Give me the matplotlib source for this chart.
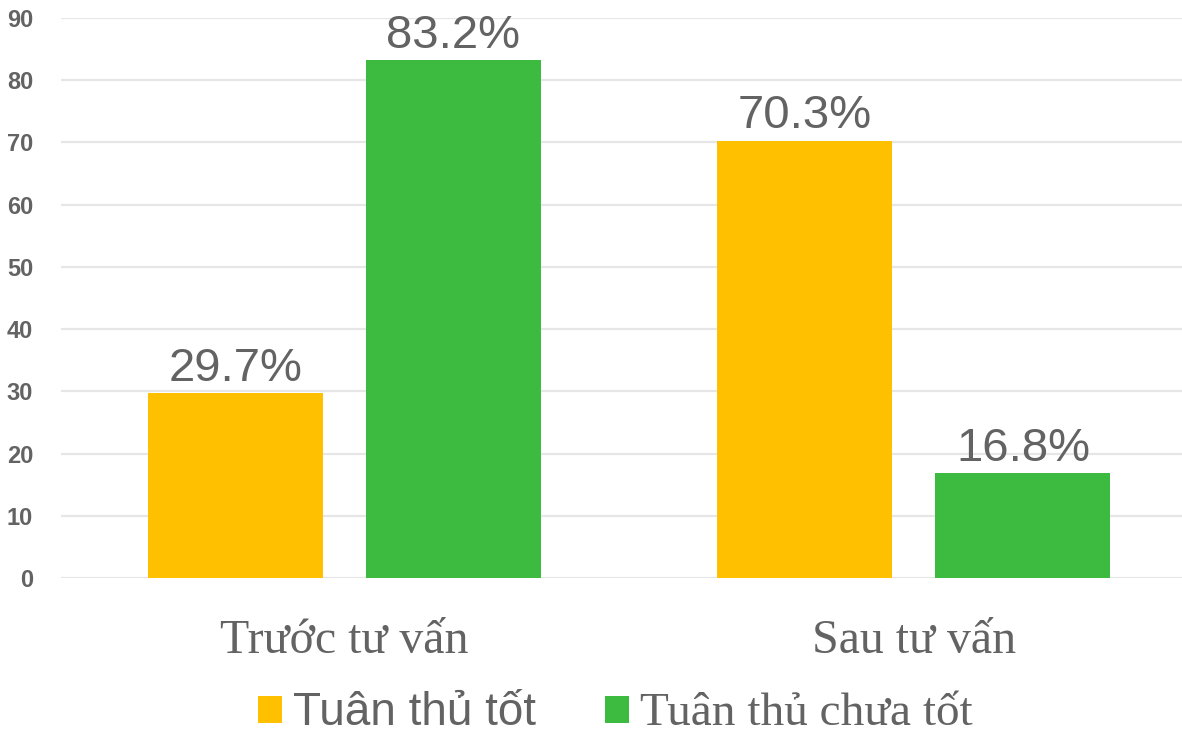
import matplotlib
matplotlib.use("Agg")
import matplotlib.pyplot as plt
from matplotlib.patches import Patch
import numpy as np

categories = ["Trước tư vấn", "Sau tư vấn"]
series_names = ["Tuân thủ tốt", "Tuân thủ chưa tốt"]
good_values = [29.7, 70.3]
notgood_values = [83.2, 16.8]
y_ticks = [0, 10, 20, 30, 40, 50, 60, 70, 80, 90]

TEXT = "#636363"
ORANGE = "#FFC000"
GREEN = "#3DBB40"
SANS = ["Liberation Sans", "DejaVu Sans"]
SERIF = ["Liberation Serif", "DejaVu Serif"]

fig = plt.figure(figsize=(11.82, 7.37), dpi=100)
ax = fig.add_axes([61 / 1182, 1 - 578 / 737, 1 - 61 / 1182, (578 - 18) / 737])

x = np.arange(len(categories))
off = 0.1914
w = 0.3073
b1 = ax.bar(x - off, good_values, width=w, color=ORANGE, zorder=3)
b2 = ax.bar(x + off, notgood_values, width=w, color=GREEN, zorder=3)

for bars, vals in ((b1, good_values), (b2, notgood_values)):
    for rect, v in zip(bars, vals):
        ax.annotate(f"{v:.1f}%", (rect.get_x() + rect.get_width() / 2, v),
                    xytext=(0, 9), textcoords="offset points",
                    ha="center", va="baseline", fontsize=34,
                    family=SANS, color=TEXT)

ax.set_ylim(0, 90)
ax.set_xlim(-0.4978, 1.4706)
ax.set_yticks(y_ticks)
ax.set_yticklabels([str(t) for t in y_ticks], family=SANS, fontsize=17,
                   fontweight="bold", color=TEXT)
ax.tick_params(axis="y", length=0, pad=20)
ax.set_xticks([])
ax.grid(axis="y", color="#E6E6E6", linewidth=1.6, zorder=0)
for s in ax.spines.values():
    s.set_visible(False)

for xi, cat in zip(x, categories):
    ax.annotate(cat, (xi, 0), xycoords=("data", "axes fraction"),
                xytext=(0, -54), textcoords="offset points",
                ha="center", va="baseline", fontsize=34.5,
                family=SERIF, color=TEXT)

handles = [Patch(facecolor=ORANGE), Patch(facecolor=GREEN)]
leg = fig.legend(handles, series_names, loc="center",
                 bbox_to_anchor=(0.5207, 0.032), ncol=2, frameon=False,
                 fontsize=33, handlelength=0.52, handleheight=0.52,
                 handletextpad=0.24, columnspacing=1.5, borderpad=0,
                 borderaxespad=0)
texts = leg.get_texts()
texts[0].set_family(SANS)
texts[1].set_family(SERIF)
texts[1].set_fontsize(34)
for t in texts:
    t.set_color(TEXT)

fig.savefig("out.png", dpi=100)
